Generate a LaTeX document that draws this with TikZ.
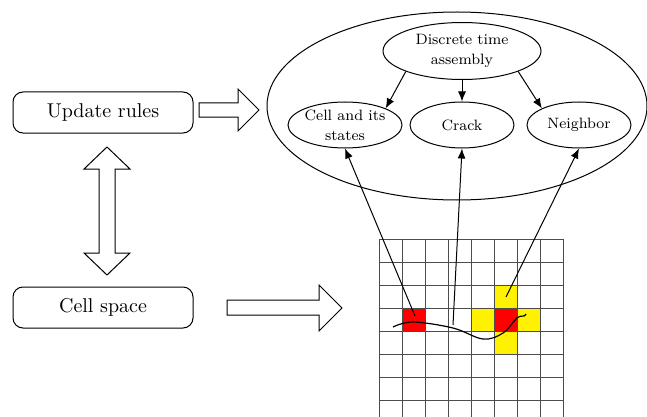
\documentclass[tikz,border=0pt]{standalone}
\usetikzlibrary{arrows.meta,shapes.geometric}

\tikzset{
  rulebox/.style={draw, rounded corners=5pt, minimum width=90pt, minimum height=20.5pt,
    inner sep=0pt, font=\fontsize{10}{12}\selectfont},
  part/.style={draw, ellipse, minimum width=52pt, minimum height=23pt, inner sep=0pt,
    align=center, font=\fontsize{7.5}{10}\selectfont},
  tip/.style={-{Latex[length=5pt,width=4pt]}},
  fatarrow/.style={draw, fill=white, line width=0.5pt},
  gridline/.style={black!70, line width=0.45pt}
}

\begin{document}
\begin{tikzpicture}[x=0.5pt, y=-0.5pt, line width=0.5pt]
  \useasboundingbox (0,0) rectangle (647,417);

  % left side boxes
  \node[rulebox] (upd) at (103,112.5) {Update rules};
  \node[rulebox] (cel) at (103,307.5) {Cell space};

  % big ellipse with its parts
  \node[draw, ellipse, minimum width=190pt, minimum height=94pt] (big) at (457,106) {};
  \node[part, minimum width=79pt, minimum height=28.5pt] (dta) at (462,51) {Discrete time\\assembly};
  \node[part] (cas) at (345,125) {Cell and its\\states};
  \node[part] (crk) at (462,125) {Crack};
  \node[part] (nbr) at (579,125) {Neighbor};

  \draw[tip] (dta.south west) -- (cas.north east);
  \draw[tip] (dta.south) -- (crk.north);
  \draw[tip] (dta.south east) -- (nbr.north west);

  % hollow block arrows
  \draw[fatarrow] (199,103) -- (238,103) -- (238,89) -- (259,110) -- (238,131)
    -- (238,117) -- (199,117) -- cycle;
  \draw[fatarrow] (107,147) -- (130,169) -- (115,169) -- (115,253) -- (130,253)
    -- (107,275) -- (84,253) -- (99,253) -- (99,169) -- (84,169) -- cycle;
  \draw[fatarrow] (227,300) -- (319,300) -- (319,285) -- (342,308) -- (319,331)
    -- (319,315) -- (227,315) -- cycle;

  % cell space grid
  \fill[red] (402,308) rectangle ++(23,23);
  \fill[yellow] (494,285) rectangle ++(23,23);
  \fill[yellow] (471,308) rectangle ++(23,23);
  \fill[yellow] (517,308) rectangle ++(23,23);
  \fill[yellow] (494,331) rectangle ++(23,23);
  \fill[red] (494,308) rectangle ++(23,23);
  \foreach \i in {0,...,8}
    \draw[gridline] (379+23*\i,239) -- (379+23*\i,417);
  \foreach \j in {0,...,7}
    \draw[gridline] (379,239+23*\j) -- (563,239+23*\j);

  % crack
  \draw[line width=0.6pt] plot[smooth, tension=0.6] coordinates
    {(393,327) (413,322) (453,328) (483,339) (503,333) (517,318) (524,316) (526,314)};

  \coordinate (c1) at (415,316);
  \coordinate (c2) at (453,325);
  \coordinate (c3) at (506,297);
  \draw[tip] (c1) -- (cas.south);
  \draw[tip] (c2) -- (crk.south);
  \draw[tip] (c3) -- (nbr.south);
\end{tikzpicture}
\end{document}
